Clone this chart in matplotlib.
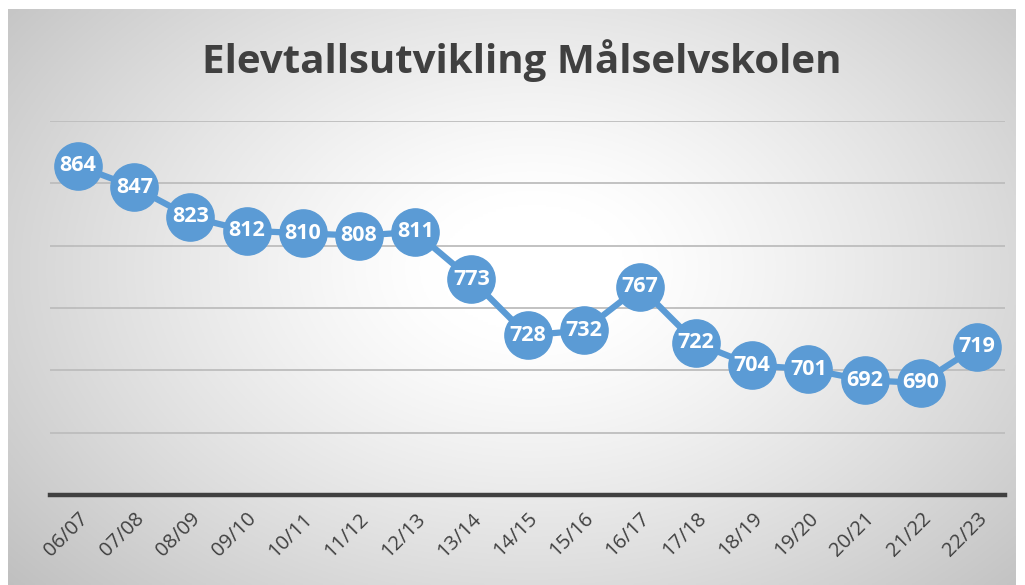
import numpy as np
import matplotlib
matplotlib.use("Agg")
import matplotlib.pyplot as plt

years = ["06/07", "07/08", "08/09", "09/10", "10/11", "11/12", "12/13", "13/14",
         "14/15", "15/16", "16/17", "17/18", "18/19", "19/20", "20/21", "21/22", "22/23"]
students = [864, 847, 823, 812, 810, 808, 811, 773, 728, 732, 767, 722, 704, 701, 692, 690, 719]
title = "Elevtallsutvikling Målselvskolen"

W, H = 1025, 585
fig = plt.figure(figsize=(W / 100, H / 100), dpi=100)
fig.patch.set_facecolor("white")

# background radial gradient panel
bx0, by0, bx1, by1 = 8, 9, 1016, 585
bg = fig.add_axes([bx0 / W, 1 - by1 / H, (bx1 - bx0) / W, (by1 - by0) / H])
nx, ny = 400, 240
xx, yy = np.meshgrid(np.linspace(0, 1, nx), np.linspace(0, 1, ny))
r = np.sqrt(((xx - 0.52) / 0.62) ** 2 + ((yy - 0.55) / 0.75) ** 2)
v = 1 - 0.26 * np.clip(r - 0.15, 0, None) ** 1.2
v = np.clip(v, 0.74, 1)
bg.imshow(np.dstack([v, v, v]), aspect="auto", extent=[0, 1, 0, 1], origin="lower")
bg.set_axis_off()
bg.set_zorder(0)

ax_l, ax_r, ax_b, ax_t = 50, 1005, 495, 121
ax = fig.add_axes([ax_l / W, 1 - ax_b / H, (ax_r - ax_l) / W, (ax_b - ax_t) / H])
ax.set_zorder(1)
ax.patch.set_alpha(0)

x = np.arange(len(years))
ax.set_xlim(-0.5, len(years) - 0.5)
ax.set_ylim(600, 900)
for yv in range(650, 901, 50):
    ax.axhline(yv, color="#BDBDBD", lw=1.3, zorder=1)

ax.plot(x, students, color="#5B9BD5", lw=4.5, marker="o", markersize=34,
        markerfacecolor="#5B9BD5", markeredgecolor="#5B9BD5", zorder=3, clip_on=False)
for xi, val in zip(x, students):
    ax.text(xi, val, str(val), ha="center", va="center", color="white",
            fontsize=15.5, fontweight="bold", family="Open Sans", zorder=4)

for s in ["top", "right", "left"]:
    ax.spines[s].set_visible(False)
ax.spines["bottom"].set_color("#404040")
ax.spines["bottom"].set_linewidth(3.2)
ax.set_yticks([])
ax.set_xticks(x)
ax.set_xticklabels(years, rotation=45, ha="right", rotation_mode="anchor",
                   fontsize=14.5, color="#404040", family="Open Sans")
ax.tick_params(axis="x", length=0, pad=10)

fig.text(522 / W, 1 - 61 / H, title, ha="center", va="center", fontsize=29,
         fontweight="bold", color="#404040", family="Open Sans")

fig.savefig("out.png", dpi=100)
